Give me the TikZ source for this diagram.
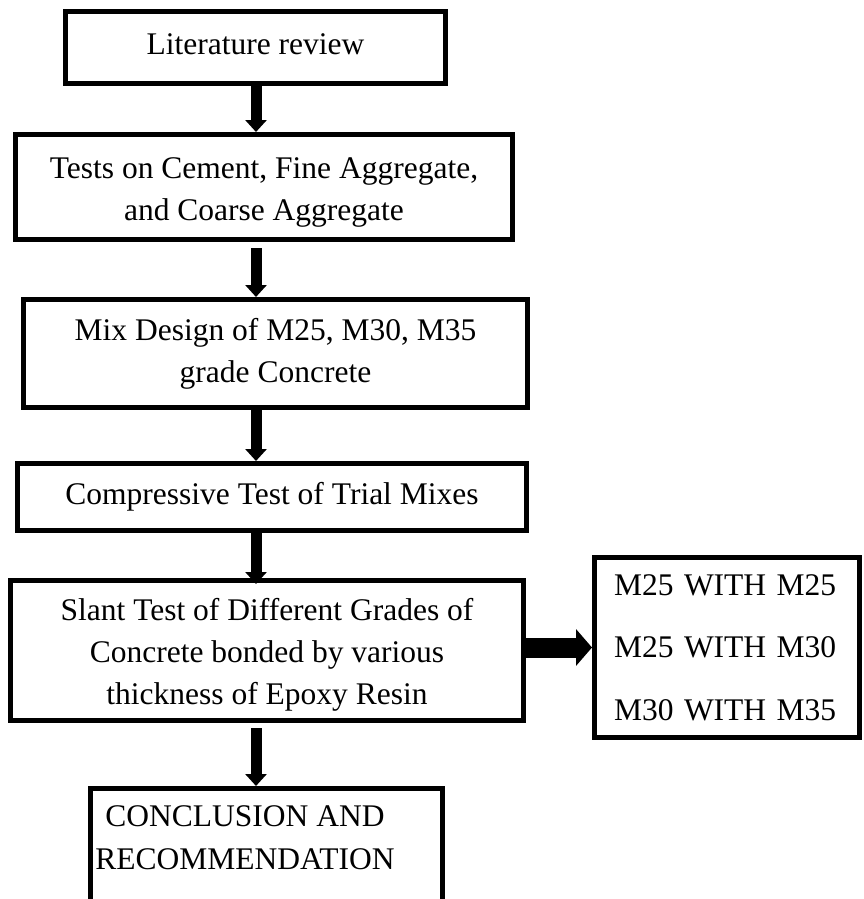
\documentclass[tikz,border=0pt]{standalone}
\usepackage{fontspec}
\setmainfont{Liberation Serif}
\usetikzlibrary{arrows.meta}
\newcommand{\topstrut}{\rule{0pt}{31pt}}
\begin{document}
\begin{tikzpicture}[x=1pt,y=-1pt,
  box/.style={draw=black, line width=5pt, rectangle, align=center, inner sep=0pt,
    font=\fontsize{31.5}{42}\selectfont},
  txt/.style={align=center, inner sep=0pt, font=\fontsize{31.5}{43}\selectfont},
  flow/.style={line width=11pt, -{Triangle[width=21pt,length=12pt]}},
  bigflow/.style={line width=20pt, -{Triangle[width=36pt,length=16pt]}}]
\fill[white] (0,0) rectangle (864,899);
\useasboundingbox (0,0) rectangle (864,899);
\coordinate (axis) at (256,0);
\node[box, minimum width=380pt, minimum height=72pt] (b1) at (255.5,47.5) {Literature review\rule[-6pt]{0pt}{6pt}};
\node[box, minimum width=497pt, minimum height=105pt] (b2) at (264,187) {\topstrut Tests on Cement, Fine Aggregate,\\and Coarse Aggregate};
\node[box, minimum width=504pt, minimum height=108pt] (b3) at (275.5,353.5) {Mix Design of M25, M30, M35\\grade Concrete};
\node[box, minimum width=509pt, minimum height=67pt] (b4) at (272,497) {Compressive Test of Trial Mixes};
\node[box, minimum width=513pt, minimum height=140pt] (b5) at (267,650.5) {\topstrut Slant Test of Different Grades of\\Concrete bonded by various\\thickness of Epoxy Resin};
\node[box, align=left, text width=226pt, inner xsep=19.5pt, minimum height=180pt,
  font=\fontsize{31.5}{62.5}\selectfont] (b6) at (727,647.5) {M25 WITH M25\\M25 WITH M30\\M30 WITH M35};
\node[box, minimum width=352pt, minimum height=160pt] (b7) at (266.5,868.5) {};
\node[txt] (b7t) at (245,838) {CONCLUSION AND\\RECOMMENDATION};
\draw[flow] (b1.south -| axis) -- (b2.north -| axis);
\draw[flow, shorten <=6pt] (b2.south -| axis) -- (b3.north -| axis);
\draw[flow] (b3.south -| axis) -- (b4.north -| axis);
\draw[flow] (b4.south -| axis) -- ([yshift=-6pt]b5.north -| axis);
\draw[flow, shorten <=5pt] (b5.south -| axis) -- (b7.north -| axis);
\draw[bigflow] (b5.east |- b6.west) -- (b6.west);
\end{tikzpicture}
\end{document}
